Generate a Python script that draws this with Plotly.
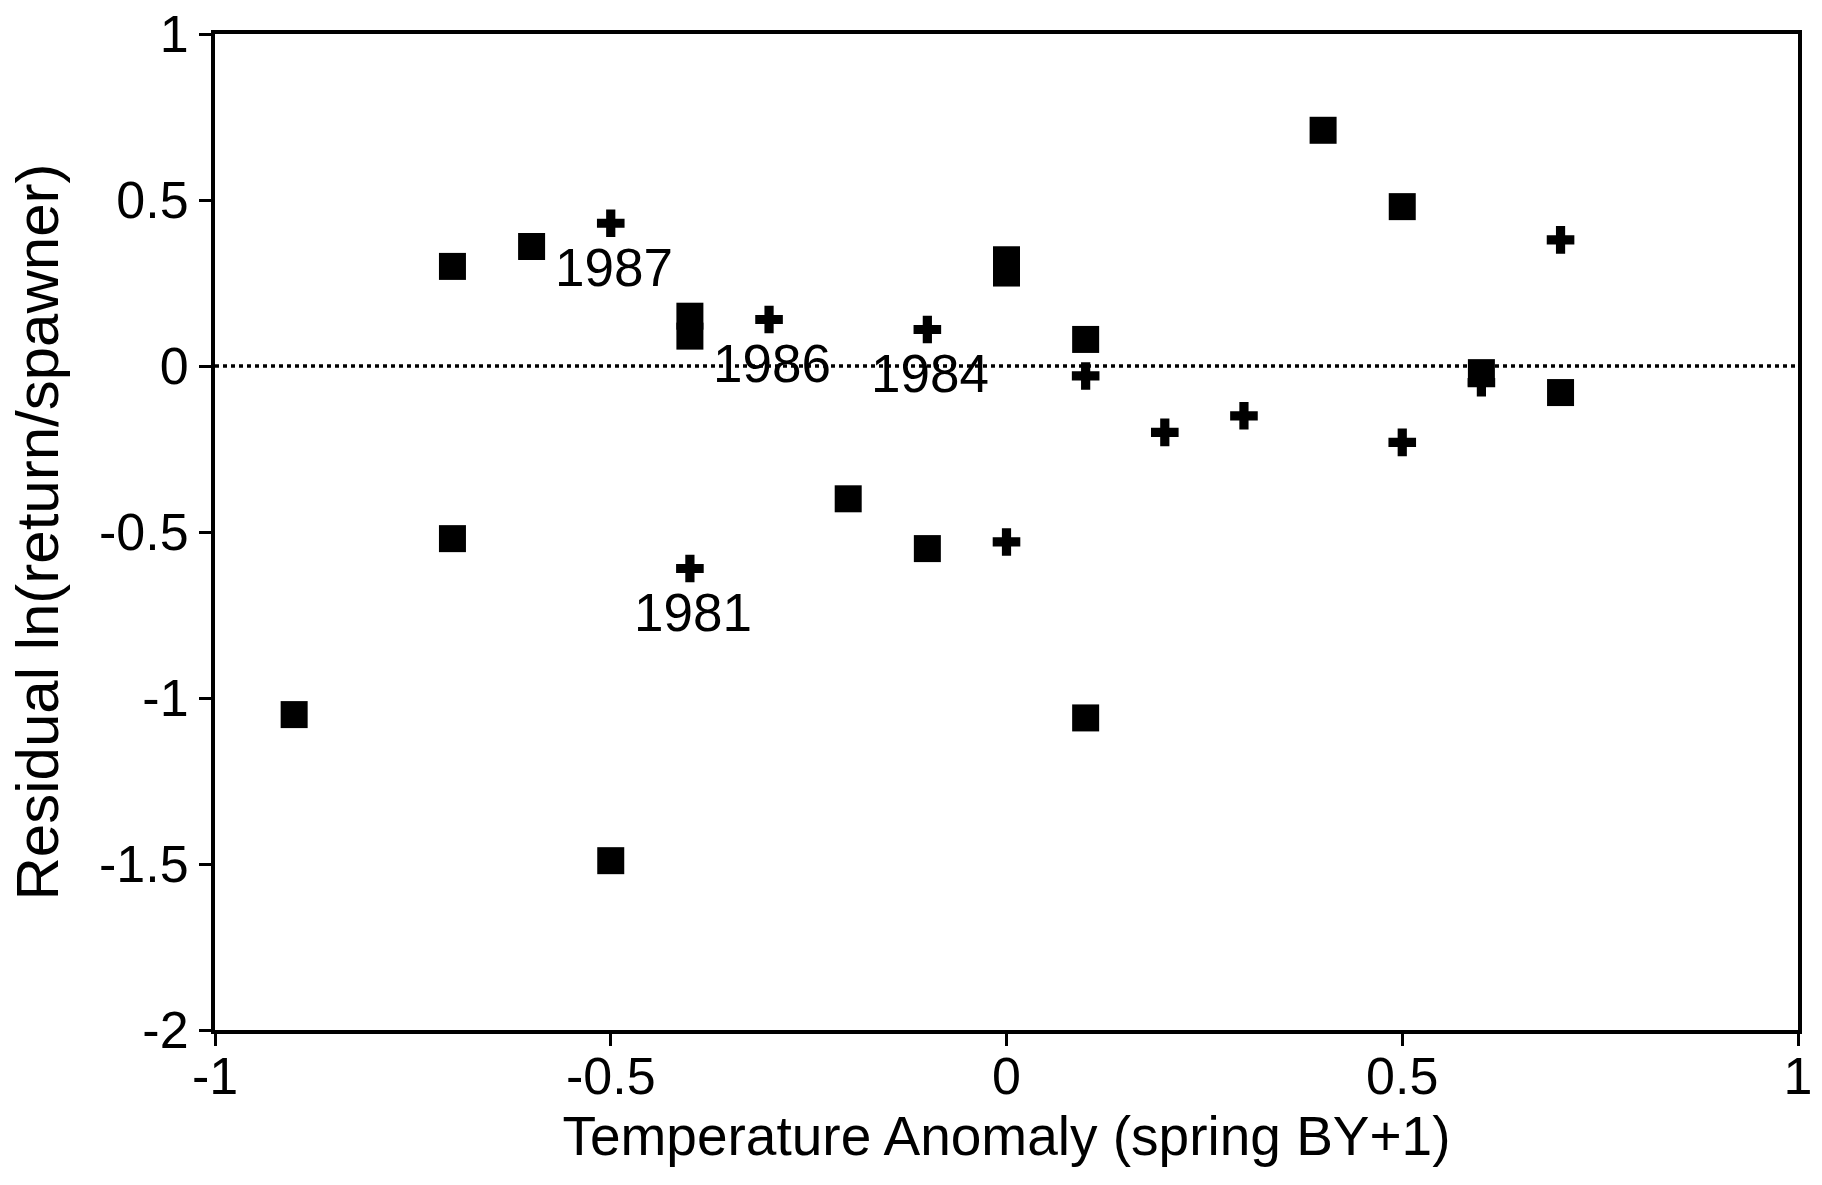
import plotly.graph_objects as go

# Series 1: filled squares
sq_x = [-0.9, -0.7, -0.7, -0.6, -0.5, -0.4, -0.4, -0.2, -0.1, 0.0, 0.0, 0.1, 0.1, 0.4, 0.5, 0.6, 0.7]
sq_y = [-1.05, 0.30, -0.52, 0.36, -1.49, 0.15, 0.09, -0.40, -0.55, 0.32, 0.28, 0.08, -1.06, 0.71, 0.48, -0.02, -0.08]

# Series 2: plus signs
pl_x = [-0.5, -0.4, -0.3, -0.1, 0.0, 0.1, 0.2, 0.3, 0.5, 0.6, 0.7]
pl_y = [0.43, -0.61, 0.14, 0.11, -0.53, -0.03, -0.20, -0.15, -0.23, -0.05, 0.38]

# Year labels attached to plus points
lab_x = [-0.5, -0.3, -0.1, -0.4]
lab_y = [0.43, 0.14, 0.11, -0.61]
lab_text = ["1987", "1986", "1984", "1981"]

# Reference line
ref_x = [-1, 1]
ref_y = [0, 0]

x_ticks = [-1, -0.5, 0, 0.5, 1]
x_ticktext = ["-1", "-0.5", "0", "0.5", "1"]
y_ticks = [1, 0.5, 0, -0.5, -1, -1.5, -2]
y_ticktext = ["1", "0.5", "0", "-0.5", "-1", "-1.5", "-2"]

FONT = "Liberation Sans Narrow, Arial Narrow, Liberation Sans, Arial, sans-serif"

fig = go.Figure()
fig.add_trace(go.Scatter(x=ref_x, y=ref_y, mode="lines",
                         line=dict(color="black", width=3.5, dash="4px,4px"),
                         showlegend=False, hoverinfo="skip"))
fig.add_trace(go.Scatter(x=sq_x, y=sq_y, mode="markers",
                         marker=dict(symbol="square", size=27, color="black"),
                         showlegend=False))
fig.add_trace(go.Scatter(x=pl_x, y=pl_y, mode="markers",
                         marker=dict(symbol="cross", size=23, color="black"),
                         showlegend=False))

for x, y, t in zip(lab_x, lab_y, lab_text):
    fig.add_annotation(x=x, y=y, text=t, showarrow=False, yshift=-44, xshift=3,
                       font=dict(family=FONT, size=53, color="black"))

fig.update_layout(
    width=1822, height=1185,
    margin=dict(l=215, r=24, t=34, b=155, autoexpand=False),
    paper_bgcolor="white", plot_bgcolor="white",
    font=dict(family=FONT, color="black", size=52),
)
fig.update_xaxes(range=[-1, 1], tickvals=x_ticks, ticktext=x_ticktext,
                 showgrid=False, zeroline=False, showline=True, linecolor="black",
                 linewidth=4, mirror=True, ticks="outside", ticklen=12, tickwidth=3,
                 tickcolor="black", tickfont=dict(size=52), automargin=False,
                 ticklabeloverflow="allow", ticklabelstandoff=-14,
                 title=dict(text="Temperature Anomaly (spring BY+1)",
                            font=dict(size=55), standoff=2))
fig.update_yaxes(range=[-2, 1], tickvals=y_ticks, ticktext=y_ticktext,
                 showgrid=False, zeroline=False, showline=True, linecolor="black",
                 linewidth=4, mirror=True, ticks="outside", ticklen=12, tickwidth=3,
                 tickcolor="black", tickfont=dict(size=52), automargin=False,
                 ticklabeloverflow="allow",
                 title=dict(text="Residual ln(return/spawner)",
                            font=dict(size=60), standoff=22))

fig.write_html("out.html")
